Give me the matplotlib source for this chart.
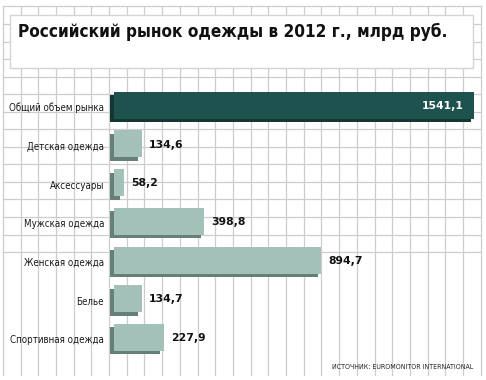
import numpy as np
import matplotlib
matplotlib.use("Agg")
import matplotlib.pyplot as plt
from matplotlib.patches import Rectangle

# --- data ---
categories = ["Общий объем рынка", "Детская одежда", "Аксессуары",
              "Мужская одежда", "Женская одежда", "Белье", "Спортивная одежда"]
values = [1541.1, 134.6, 58.2, 398.8, 894.7, 134.7, 227.9]
value_labels = ["1541,1", "134,6", "58,2", "398,8", "894,7", "134,7", "227,9"]
title = "Российский рынок одежды в 2012 г., млрд руб."
source = "ИСТОЧНИК: EUROMONITOR INTERNATIONAL"

W, H = 486, 380
fig = plt.figure(figsize=(W / 100, H / 100), dpi=100, facecolor="white")

# background grid in pixel space
bg = fig.add_axes([0, 0, 1, 1])
bg.set_xlim(0, W)
bg.set_ylim(H, 0)
bg.axis("off")
grid_c = "#cdcdcd"
for k in range(28):
    x = 2.8 + 17.7 * k
    bg.plot([x, x], [6.4, 375], color=grid_c, lw=0.9)
for k in range(15):
    y = 6.4 + 17.55 * k
    bg.plot([2.8, 480.7], [y, y], color=grid_c, lw=0.9)

# title box
bg.add_patch(Rectangle((10, 15), 463, 53, facecolor="white",
                       edgecolor="#d4d4d4", lw=1.0, zorder=3))
t = bg.text(18, 37, title, fontsize=13, fontweight="heavy", color="#111111",
            family="DejaVu Sans", stretch="condensed", va="baseline", zorder=4)
# fit title to ~429 px like the original
r = fig.canvas.get_renderer()
tw = t.get_window_extent(r).width
t.set_fontsize(13 * 429 / tw)

bg.text(473, 367, source, fontsize=5.0, color="#222222", ha="right",
        va="center", family="DejaVu Sans", stretch="condensed", zorder=4)

# bar axes: x=0 at pixel 110, rows every 38.7 px
row = 38.7
top = 107 - row / 2
ax = fig.add_axes([110 / W, 1 - (top + row * 7) / H, 370 / W, row * 7 / H])
xmax = 370 / 0.2362
ax.set_xlim(0, xmax)
ax.set_ylim(6.5, -0.5)
ax.axis("off")

ypos = np.arange(len(categories))
bh = 0.7
dx = 3.5 / 0.2362        # shadow offset in data units (~3.5 px)
dy = 3.5 / row
face = ["#1e524e"] + ["#a3c1b8"] * 6
shade = ["#133734"] + ["#667f77"] * 6
vals = np.array(values)

ax.barh(ypos + dy / 2, vals - dx, left=0, height=bh, color=shade, zorder=2)
ax.barh(ypos - dy / 2, vals - dx, left=dx, height=bh, color=face, zorder=3)

for i, (cat, v, lab) in enumerate(zip(categories, values, value_labels)):
    ax.text(-6 / 0.2362, i + 0.03, cat, ha="right", va="center", fontsize=7.0,
            family="DejaVu Sans", stretch="condensed", color="#1a1a1a")
    if i == 0:
        ax.text(v - 10 / 0.2362, i - 0.03, lab, ha="right", va="center",
                fontsize=7.8, fontweight="bold", color="white", zorder=5)
    else:
        ax.text(v + 7 / 0.2362, i - 0.03, lab, ha="left", va="center",
                fontsize=7.8, fontweight="bold", color="#111111", zorder=5)

fig.savefig("out.png", dpi=100, facecolor="white")
